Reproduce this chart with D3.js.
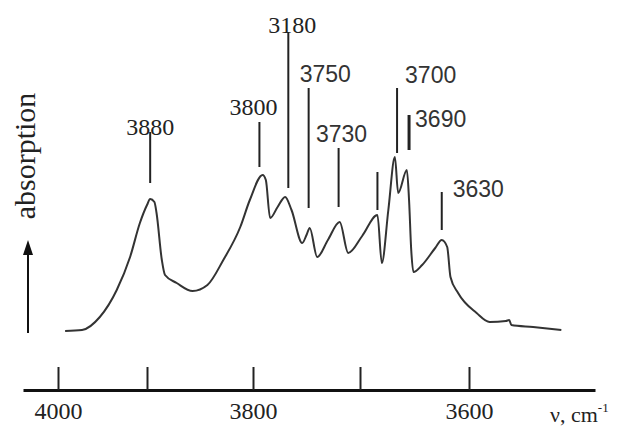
<!DOCTYPE html>
<html>
<head>
<meta charset="utf-8">
<script src="https://cdn.jsdelivr.net/npm/d3@7"></script>
<style>
  body { margin: 0; background: #fff; }
  svg { display: block; }
</style>
</head>
<body>
<div id="chart"></div>
<script>
// ------------------
// Data
// ------------------
// wavenumber, cm-1 (decreasing)
const wavenumbers = [
  3992, 3973, 3953, 3934, 3919, 3908, 3900, 3897, 3893, 3891, 3886, 3883, 3872, 3857,
  3843, 3828, 3812, 3803, 3791, 3788, 3784, 3777, 3770, 3764, 3754, 3750, 3747, 3740,
  3730, 3719, 3711, 3698, 3684, 3680, 3674, 3668, 3665, 3657, 3655, 3653, 3651, 3643,
  3631, 3625, 3620, 3617, 3610, 3593, 3581, 3566, 3563, 3561, 3541, 3515
];
// absorption, arbitrary units
const absorption = [
  0.000, 0.005, 0.070, 0.205, 0.370, 0.540, 0.630, 0.660, 0.645, 0.590, 0.355, 0.280, 0.240, 0.200,
  0.230, 0.355, 0.520, 0.655, 0.780, 0.755, 0.565, 0.620, 0.670, 0.605, 0.440, 0.480, 0.515, 0.370,
  0.455, 0.545, 0.390, 0.475, 0.580, 0.340, 0.605, 0.870, 0.690, 0.805, 0.655, 0.405, 0.295, 0.330,
  0.415, 0.455, 0.420, 0.270, 0.190, 0.090, 0.045, 0.050, 0.055, 0.030, 0.020, 0.005
];

// x axis ticks (the original axis is not evenly spaced)
const tickValues = [4000, 3900, 3800, 3700, 3600];
const tickLabels = ["4000", "", "3800", "", "3600"];

// peak markers: label text, wavenumber of the stroke, stroke bottom / top in absorption units
const markerLabels = ["3880", "3800", "3180", "3750", "3730", "", "3700", "3690", "3630"];
const markerWn     = [3897, 3794, 3767, 3748, 3720, 3684, 3666, 3655, 3625];
const markerLow    = [0.74, 0.82, 0.715, 0.615, 0.62, 0.605, 0.89, 0.905, 0.505];
const markerHigh   = [0.995, 1.045, 1.495, 1.215, 0.915, 0.795, 1.215, 1.08, 0.695];

// ------------------
// Layout / style
// ------------------
const width = 622, height = 426;
const serif = "'Liberation Serif', 'Times New Roman', serif";
const sans = "'Liberation Sans', Arial, sans-serif";

// label placement relative to the top of each marker stroke
const labelStyle = [
  { anchor: "middle", dx: 0,  dy: 3,  font: serif, size: 24 },
  { anchor: "middle", dx: -6, dy: -7, font: serif, size: 24 },
  { anchor: "middle", dx: 4,  dy: 1,  font: serif, size: 24 },
  { anchor: "start",  dx: -9, dy: -6, font: sans,  size: 23 },
  { anchor: "middle", dx: 3,  dy: -6, font: sans,  size: 23 },
  { anchor: "start",  dx: 0,  dy: 0,  font: sans,  size: 23 },
  { anchor: "start",  dx: 8,  dy: -5, font: sans,  size: 23 },
  { anchor: "start",  dx: 6,  dy: 12, font: sans,  size: 23 },
  { anchor: "start",  dx: 11, dy: 5,  font: sans,  size: 23 }
];

const svg = d3.select("#chart")
  .append("svg")
  .attr("width", width)
  .attr("height", height);

// piecewise scale to follow the hand-drawn axis
const x = d3.scaleLinear()
  .domain([4039, 4000, 3900, 3800, 3700, 3600, 3484])
  .range([23, 58, 147, 253, 360, 469, 595]);

const y = d3.scaleLinear()
  .domain([0, 1])
  .range([331, 131]);

const axisY = 390;

// ------------------
// X axis
// ------------------
const xAxis = d3.axisBottom(x)
  .tickValues(tickValues)
  .tickFormat((d, i) => tickLabels[i])
  .tickSizeInner(-23)
  .tickSizeOuter(0)
  .tickPadding(12);

const gx = svg.append("g")
  .attr("transform", `translate(0,${axisY})`)
  .call(xAxis)
  .attr("font-family", serif)
  .attr("font-size", 24);

gx.select(".domain")
  .attr("stroke", "#111")
  .attr("stroke-width", 3);
gx.selectAll(".tick line")
  .attr("stroke", "#222")
  .attr("stroke-width", 2);
gx.selectAll(".tick text")
  .attr("fill", "#222")
  .attr("font-family", serif)
  .attr("font-size", 24);

const unit = svg.append("text")
  .attr("x", 550)
  .attr("y", 422)
  .attr("fill", "#222")
  .style("font-family", serif)
  .style("font-size", "22px")
  .text("ν, cm");
unit.append("tspan")
  .attr("dy", -10)
  .style("font-size", "13px")
  .text("-1");

// ------------------
// Y "axis": arrow + label
// ------------------
svg.append("line")
  .attr("x1", 28).attr("x2", 28)
  .attr("y1", 333).attr("y2", 250)
  .attr("stroke", "#111")
  .attr("stroke-width", 2);
svg.append("path")
  .attr("d", "M23,255 L28,240 L33,255 Z")
  .attr("fill", "#111");

svg.append("text")
  .attr("transform", "translate(35,156) rotate(-90)")
  .attr("text-anchor", "middle")
  .attr("fill", "#222")
  .style("font-family", serif)
  .style("font-size", "30px")
  .text("absorption");

// ------------------
// Spectrum
// ------------------
const spectrum = wavenumbers.map((w, i) => ({ wn: w, a: absorption[i] }));

const line = d3.line()
  .x(d => x(d.wn))
  .y(d => y(d.a))
  .curve(d3.curveMonotoneX);

svg.append("path")
  .datum(spectrum)
  .attr("d", line)
  .attr("fill", "none")
  .attr("stroke", "#333")
  .attr("stroke-width", 2)
  .attr("stroke-linejoin", "round");

// ------------------
// Peak markers
// ------------------
const markers = markerWn.map((w, i) => ({
  wn: w, lo: markerLow[i], hi: markerHigh[i], label: markerLabels[i], style: labelStyle[i]
}));

const mg = svg.append("g");
mg.selectAll("line")
  .data(markers)
  .enter()
  .append("line")
  .attr("x1", d => x(d.wn))
  .attr("x2", d => x(d.wn))
  .attr("y1", d => y(d.lo))
  .attr("y2", d => y(d.hi))
  .attr("stroke", "#222")
  .attr("stroke-width", d => d.label === "3690" ? 3 : 2);

mg.selectAll("text")
  .data(markers.filter(d => d.label))
  .enter()
  .append("text")
  .attr("x", d => x(d.wn) + d.style.dx)
  .attr("y", d => y(d.hi) + d.style.dy)
  .attr("text-anchor", d => d.style.anchor)
  .attr("fill", d => d.style.font === sans ? "#333" : "#222")
  .style("font-family", d => d.style.font)
  .style("font-size", d => d.style.size + "px")
  .text(d => d.label);
</script>
</body>
</html>
